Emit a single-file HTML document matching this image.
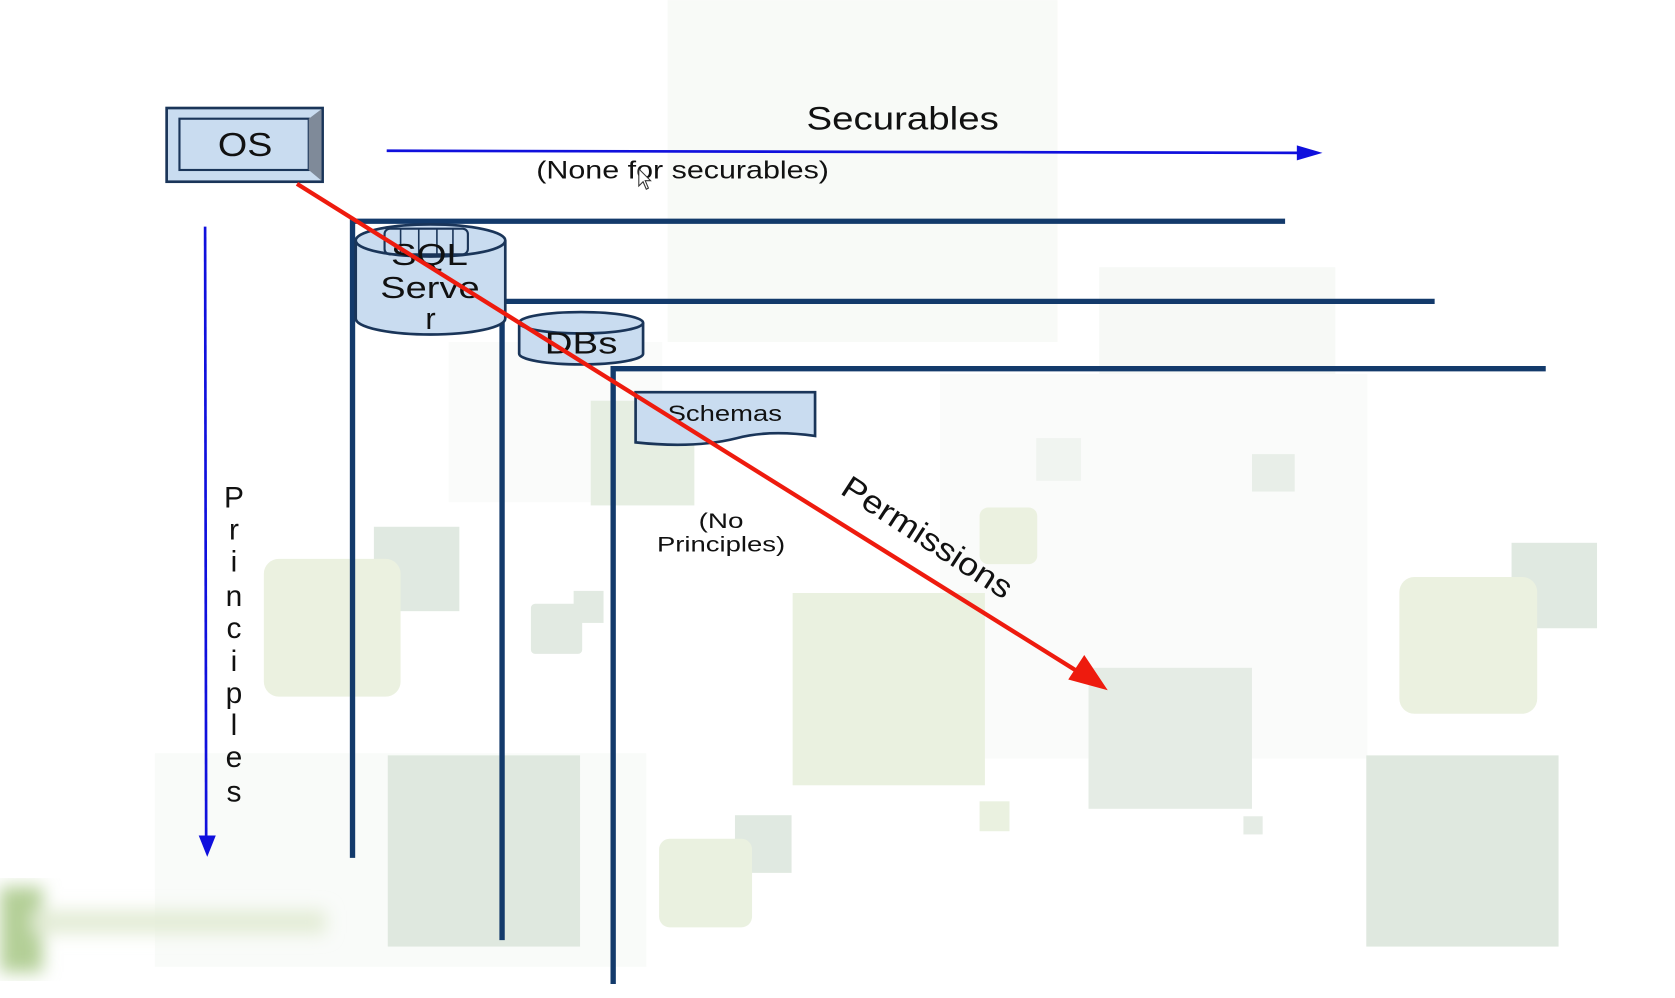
<!DOCTYPE html>
<html><head><meta charset="utf-8"><style>html,body{margin:0;padding:0;background:#fff;overflow:hidden}svg{display:block}</style></head>
<body>
<svg width="1675" height="998" viewBox="0 0 1568 934" xmlns="http://www.w3.org/2000/svg" font-family="Liberation Sans, Arial, sans-serif">
<defs><filter id="bl"><feGaussianBlur stdDeviation="8"/></filter></defs>
<rect width="1568" height="934" fill="#fff"/>
<!-- background -->
<rect x="625" y="0" width="365" height="320" fill="#f8faf7"/>
<rect x="1029" y="250" width="221" height="285" fill="#f7f9f6"/>
<rect x="880" y="350" width="400" height="360" fill="#fafbfa"/>
<rect x="145" y="705" width="460" height="200" fill="#f9fbf9"/>
<rect x="420" y="320" width="200" height="150" fill="#fafbfa"/>
<rect x="553" y="375" width="97" height="98" fill="#e6eee2"/>
<rect x="350" y="493" width="80" height="79" fill="#e0e9e1"/>
<rect x="247" y="523" width="128" height="129" rx="14" fill="#ebf1e0"/>
<rect x="497" y="565" width="48" height="47" rx="4" fill="#e2eae2"/>
<rect x="537" y="553" width="28" height="30" fill="#e2eae2"/>
<rect x="363" y="707" width="180" height="179" fill="#dfe8df"/>
<rect x="742" y="555" width="180" height="180" fill="#eaf1e0"/>
<rect x="917" y="475" width="54" height="53" rx="8" fill="#ebf1e0"/>
<rect x="1019" y="625" width="153" height="132" fill="#e5ece5"/>
<rect x="1279" y="707" width="180" height="179" fill="#dfe8df"/>
<rect x="1415" y="508" width="80" height="80" fill="#e0e9e1"/>
<rect x="1310" y="540" width="129" height="128" rx="14" fill="#ebf1e0"/>
<rect x="688" y="763" width="53" height="54" fill="#e0e9e1"/>
<rect x="617" y="785" width="87" height="83" rx="10" fill="#eaf1e0"/>
<rect x="917" y="750" width="28" height="28" fill="#eaf1e0"/>
<rect x="1164" y="764" width="18" height="17" fill="#e5ece5"/>
<rect x="970" y="410" width="42" height="40" fill="#f0f4f0"/>
<rect x="1172" y="425" width="40" height="35" fill="#e8eee8"/>
<g filter="url(#bl)"><rect x="0" y="830" width="40" height="80" fill="#b3cf96"/><rect x="30" y="852" width="275" height="22" fill="#e3ecd6"/></g>

<!-- navy lines -->
<g stroke="#133a6b" stroke-width="5" fill="none">
<polyline points="330,803 330,207 1203,207"/>
<polyline points="470,880 470,282 1343,282"/>
<polyline points="574,921 574,345 1447,345"/>
</g>

<!-- blue arrows -->
<line x1="362" y1="141" x2="1220" y2="143" stroke="#1010dd" stroke-width="2.5"/>
<polygon points="1238,143 1214,136 1214,150" fill="#1010dd"/>
<line x1="192" y1="212" x2="193" y2="785" stroke="#1010dd" stroke-width="2.5"/>
<polygon points="194,802 186,782 202,782" fill="#1010dd"/>

<!-- OS -->
<rect x="156" y="101" width="146" height="69" fill="#c9dcf0" stroke="#1a3559" stroke-width="2.5"/>
<rect x="168" y="111" width="121" height="48" fill="#c9dcf0" stroke="#1a3559" stroke-width="2"/>
<polygon points="289,111 301,102 301,169 289,159" fill="#7f8a99"/>
<text x="204" y="146" font-size="31" textLength="51" lengthAdjust="spacingAndGlyphs" fill="#111">OS</text>

<!-- SQL Server cylinder -->
<path d="M333,225 L333,298 A70,15 0 0 0 473,298 L473,225" fill="#c9dcf0" stroke="#1a3559" stroke-width="2.5"/>
<ellipse cx="403" cy="225" rx="70" ry="15" fill="#c9dcf0" stroke="#1a3559" stroke-width="2.5"/>
<rect x="360" y="214" width="78" height="24" rx="5" fill="none" stroke="#1a3559" stroke-width="2"/>
<g stroke="#1a3559" stroke-width="1.5"><line x1="375" y1="214" x2="375" y2="238"/><line x1="392" y1="214" x2="392" y2="238"/><line x1="409" y1="214" x2="409" y2="238"/><line x1="424" y1="214" x2="424" y2="238"/></g>
<text x="366" y="248" font-size="29" textLength="72" lengthAdjust="spacingAndGlyphs" fill="#111">SQL</text>
<text x="356" y="279" font-size="29" textLength="93" lengthAdjust="spacingAndGlyphs" fill="#111">Serve</text>
<text x="403" y="308" font-size="29" text-anchor="middle" fill="#111">r</text>

<!-- DBs cylinder -->
<path d="M486,302 L486,331 A58,10 0 0 0 602,331 L602,302" fill="#c9dcf0" stroke="#1a3559" stroke-width="2.5"/>
<ellipse cx="544" cy="302" rx="58" ry="10" fill="#c9dcf0" stroke="#1a3559" stroke-width="2.5"/>
<text x="510" y="331" font-size="29" textLength="68" lengthAdjust="spacingAndGlyphs" fill="#111">DBs</text>

<!-- Schemas -->
<path d="M595,367 L763,367 L763,408 Q720,402 690,410 Q650,420 595,414 Z" fill="#c9dcf0" stroke="#1a3559" stroke-width="2.5"/>
<text x="625" y="394" font-size="21" textLength="107" lengthAdjust="spacingAndGlyphs" fill="#111">Schemas</text>

<!-- red arrow -->
<line x1="278" y1="172" x2="1016" y2="633" stroke="#ee1b0e" stroke-width="4"/>
<polygon points="1037,646 1000,636 1015,613" fill="#ee1b0e"/>

<!-- texts -->
<text x="755" y="121" font-size="30" textLength="180" lengthAdjust="spacingAndGlyphs" fill="#111">Securables</text>
<text x="502" y="167" font-size="23" textLength="274" lengthAdjust="spacingAndGlyphs" fill="#111">(None for securables)</text>
<text x="654" y="494" font-size="20" textLength="42" lengthAdjust="spacingAndGlyphs" fill="#111">(No</text>
<text x="615" y="516" font-size="20" textLength="120" lengthAdjust="spacingAndGlyphs" fill="#111">Principles)</text>
<text transform="translate(868,503) rotate(33)" x="-92" dy="10" font-size="30" textLength="184" lengthAdjust="spacingAndGlyphs" fill="#111">Permissions</text>
<g font-size="28" text-anchor="middle" fill="#111">
<text x="219" y="475">P</text><text x="219" y="505">r</text><text x="219" y="535">i</text><text x="219" y="567">n</text><text x="219" y="597">c</text><text x="219" y="628">i</text><text x="219" y="658">p</text><text x="219" y="688">l</text><text x="219" y="718">e</text><text x="219" y="750">s</text>
</g>
<!-- cursor -->
<path d="M598,158 L598,174 L602,170 L605,177 L607,176 L604,169 L609,169 Z" fill="#fff" stroke="#333" stroke-width="1"/>
</svg>
</body></html>
